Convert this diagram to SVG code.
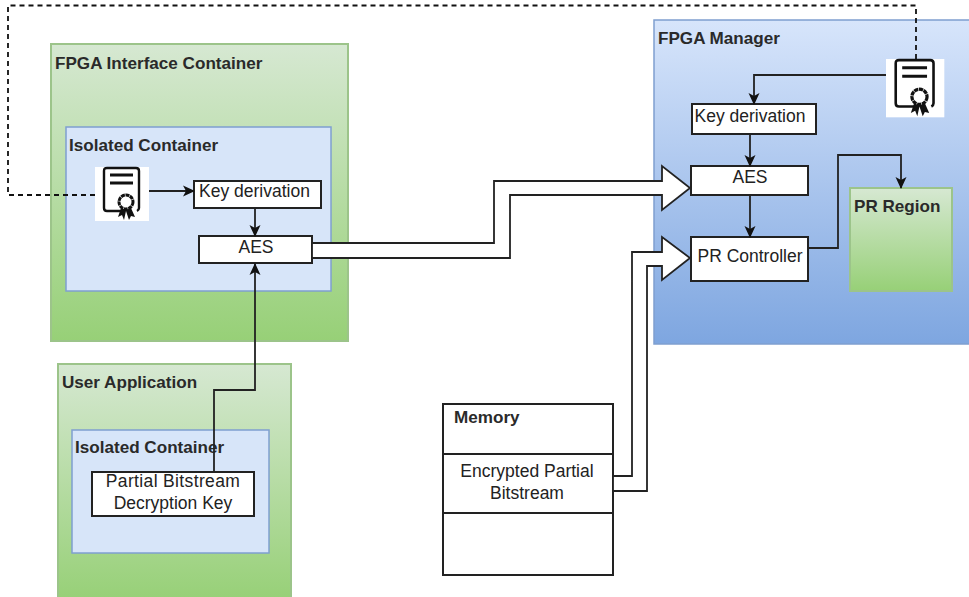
<svg xmlns="http://www.w3.org/2000/svg" width="969" height="597" viewBox="0 0 969 597">
<style>
text{font-family:"Liberation Sans",Arial,sans-serif;fill:#222}
.t{font-size:17.1px;font-weight:700;fill:#2a2a2a}
.l{font-size:17.5px;text-anchor:middle}
.b{fill:#fff;stroke:#222;stroke-width:2}
.c{fill:none;stroke:#222;stroke-width:1.8}
.d{fill:none;stroke:#111;stroke-width:1.8;stroke-dasharray:5 4}
.f{fill:#fff;stroke:#222;stroke-width:1.8;stroke-linejoin:miter}
.g{fill:url(#green);stroke:#9cc48a;stroke-width:2}
.i{fill:#d7e5f9;stroke:#7f9fd0;stroke-width:1.5}
.cert{fill:none;stroke:#111;stroke-width:2.4}
</style>
<defs>
<linearGradient id="green" x1="0" y1="0" x2="0" y2="1"><stop offset="0" stop-color="#d6e8d2"/><stop offset="1" stop-color="#97d077"/></linearGradient>
<linearGradient id="blue" x1="0" y1="0" x2="0" y2="1"><stop offset="0" stop-color="#d7e5fb"/><stop offset="1" stop-color="#7ea6e0"/></linearGradient>
<marker id="a" viewBox="0 0 12 12" refX="11" refY="6" markerWidth="12" markerHeight="12" markerUnits="userSpaceOnUse" orient="auto"><path d="M0 0.5L12 6L0 11.5L3 6Z" fill="#111"/></marker>
<g id="certIcon">
<rect x="0" y="0" width="54" height="54" fill="#fff"/>
<path class="cert" d="M27 44H12Q9 44 9 41V4Q9 1 12 1H41Q44 1 44 4V41Q44 43 42 44"/>
<path d="M15 8H38M15 16H38" stroke="#111" stroke-width="2.8" fill="none"/>
<circle cx="31" cy="35" r="7" fill="#fff" stroke="#111" stroke-width="3" stroke-dasharray="4 0.6"/>
<path d="M26 41L23 50L27 48L29 53L31 44L34 53L36 49L40 50L36 41L31 43Z" fill="#111"/>
</g>
</defs>
<g id="fpga-interface-container"><rect class="g" x="51" y="44" width="297" height="297"/><text class="t" x="55" y="69">FPGA Interface Container</text></g>
<g id="isolated-container-1"><rect class="i" x="66" y="127" width="265" height="164"/><text class="t" x="69" y="151">Isolated Container</text></g>
<g id="user-application"><rect class="g" x="58" y="364" width="233" height="236"/><text class="t" x="62" y="388">User Application</text></g>
<g id="isolated-container-2"><rect class="i" x="72" y="430" width="197" height="123"/><text class="t" x="75" y="453">Isolated Container</text></g>
<g id="fpga-manager"><rect x="654" y="20" width="320" height="324" fill="url(#blue)" stroke="#7f9fd0" stroke-width="1.5"/><text class="t" x="658" y="44">FPGA Manager</text></g>
<g id="pr-region"><rect class="g" x="850" y="188" width="102" height="103"/><text class="t" x="854" y="212">PR Region</text></g>
<g id="cert-left"><use href="#certIcon" x="95" y="167"/></g>
<g id="cert-right"><use href="#certIcon" transform="translate(886 59) scale(1.08)"/></g>
<g id="key-derivation-left"><rect class="b" x="194" y="181" width="127" height="27"/><text class="l" x="254.500" y="197">Key derivation</text></g>
<g id="aes-left"><rect class="b" x="199" y="236" width="113" height="27"/><text class="l" x="256" y="253">AES</text></g>
<g id="decryption-key"><rect class="b" x="92" y="472" width="162" height="44"/><text class="l" x="173" y="487" style="letter-spacing:.35px">Partial Bitstream</text><text class="l" x="173" y="509">Decryption Key</text></g>
<g id="key-derivation-right"><rect class="b" x="692" y="104" width="124" height="30"/><text class="l" x="750" y="122">Key derivation</text></g>
<g id="aes-right"><rect class="b" x="691" y="166" width="117" height="29"/><text class="l" x="750" y="183">AES</text></g>
<g id="pr-controller"><rect class="b" x="691" y="237" width="117" height="44"/><text class="l" x="750" y="262">PR Controller</text></g>
<g id="memory"><rect class="b" x="443" y="404" width="170" height="171"/><path d="M443 454H613M443 513H613" stroke="#222" stroke-width="1.8"/><text class="t" x="454" y="423">Memory</text><text class="l" x="527" y="477">Encrypted Partial</text><text class="l" x="527" y="499">Bitstream</text></g>
<g id="connectors">
<path class="d" d="M95 195H8V5.500H916V59"/>
<path class="c" marker-end="url(#a)" d="M149 191H194"/>
<path class="c" marker-end="url(#a)" d="M255 208V236"/>
<path class="c" marker-end="url(#a)" d="M214 472V390H255V264"/>
<path class="c" marker-end="url(#a)" d="M886 75H754V104"/>
<path class="c" marker-end="url(#a)" d="M750 134V166"/>
<path class="c" marker-end="url(#a)" d="M750 195V237"/>
<path class="c" marker-end="url(#a)" d="M808 248H838V155H901V188"/>
<path class="f" d="M312 243H494V181H662V166L690 188L662 210V195H510V258H312Z"/>
<path class="f" d="M613 476H632V252H662V237L690 258L662 280V266H647V491H613Z"/>
</g>
</svg>
